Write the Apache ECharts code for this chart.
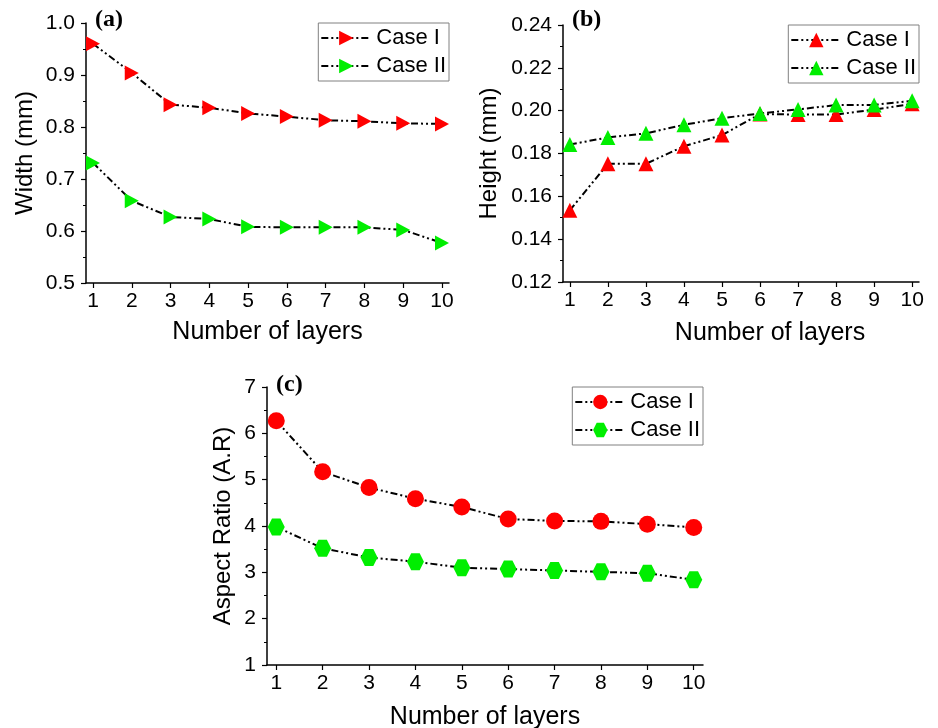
<!DOCTYPE html>
<html>
<head>
<meta charset="utf-8">
<script src="https://cdn.jsdelivr.net/npm/echarts@6/dist/echarts.min.js"></script>
<style>
html,body{margin:0;padding:0;background:#fff;}
#main{width:938px;height:728px;}
</style>
</head>
<body>
<div id="main"></div>
<script>
var layers = [1, 2, 3, 4, 5, 6, 7, 8, 9, 10];
var widthCaseI  = [0.960, 0.904, 0.843, 0.837, 0.826, 0.820, 0.813, 0.811, 0.807, 0.806];
var widthCaseII = [0.731, 0.658, 0.627, 0.623, 0.608, 0.607, 0.607, 0.607, 0.602, 0.577];
var heightCaseI  = [0.1535, 0.1752, 0.1752, 0.1834, 0.1886, 0.1984, 0.1982, 0.1982, 0.2005, 0.2032];
var heightCaseII = [0.1842, 0.1875, 0.1894, 0.1934, 0.1965, 0.1987, 0.2006, 0.2026, 0.2027, 0.2046];
var arCaseI  = [6.27, 5.17, 4.83, 4.59, 4.41, 4.15, 4.11, 4.10, 4.04, 3.97];
var arCaseII = [3.98, 3.52, 3.32, 3.23, 3.10, 3.07, 3.04, 3.01, 2.98, 2.84];
var seriesNames = ['Case I', 'Case II'];
var panelLabels = ['(a)', '(b)', '(c)'];
var xAxisTitle = 'Number of layers';
var yAxisTitles = ['Width (mm)', 'Height (mm)', 'Aspect Ratio (A.R)'];

function pairs(xs, ys) { return xs.map(function (x, i) { return [x, ys[i]]; }); }

var FONT = 'Liberation Sans, Arial, sans-serif';
var SERIF = 'Liberation Serif, Times New Roman, serif';
var RED = '#ff0000', GREEN = '#00ee00';
var DASH = [7, 3, 2, 3, 2, 3];
var triRight = 'path://M0,0L10,5L0,10Z';
var hexagon = 'path://M0,5L2.5,0.67L7.5,0.67L10,5L7.5,9.33L2.5,9.33Z';

function xAx(gi, gap, pad) {
  return {
    type: 'value', gridIndex: gi, min: gi === 2 ? 0.8 : 0.82, max: gi === 2 ? 10.2 : 10.18,
    name: xAxisTitle, nameLocation: 'middle', nameGap: gap,
    nameTextStyle: { fontFamily: FONT, fontSize: 25, color: '#000', padding: pad || 0 },
    axisLine: { show: true, onZero: false, lineStyle: { color: '#000', width: 1.5 } },
    axisTick: { show: true, inside: false, length: 5, customValues: layers, lineStyle: { color: '#000', width: 1.2 } },
    axisLabel: { customValues: layers, margin: 8, fontFamily: FONT, fontSize: 21, color: '#000' },
    splitLine: { show: false }
  };
}
function yAx(gi, min, max, interval, dec, gap) {
  return {
    type: 'value', gridIndex: gi, min: min, max: max, interval: interval,
    name: yAxisTitles[gi], nameLocation: 'middle', nameGap: gap,
    nameTextStyle: { fontFamily: FONT, fontSize: 24, color: '#000' },
    axisLine: { show: true, onZero: false, lineStyle: { color: '#000', width: 1.5 } },
    axisTick: { show: true, inside: false, length: 5, lineStyle: { color: '#000', width: 1.2 } },
    minorTick: { show: true, splitNumber: 2, length: 3, lineStyle: { color: '#000', width: 1 } },
    axisLabel: { margin: 11, fontFamily: FONT, fontSize: 21, color: '#000',
      formatter: function (v) { return v.toFixed(dec); } },
    splitLine: { show: false }, minorSplitLine: { show: false }
  };
}
function ser(name, gi, data, symbol, size, color) {
  return {
    type: 'line', name: name, xAxisIndex: gi, yAxisIndex: gi, data: data,
    symbol: symbol, symbolSize: size, showSymbol: true,
    itemStyle: { color: color, borderWidth: 0 },
    lineStyle: { color: '#000', width: 2, type: DASH },
    emphasis: { disabled: true }, z: 3
  };
}
function leg(gi, right, top) {
  var tag = ' ' + panelLabels[gi];
  return {
    data: [seriesNames[0] + tag, seriesNames[1] + tag],
    orient: 'vertical', right: right, top: top,
    formatter: function (n) { return n.replace(/ \(.\)$/, ''); },
    itemWidth: 50, itemHeight: 18, itemGap: 4,
    padding: [3, 3, 3, 2], borderColor: '#808080', borderWidth: 1,
    textStyle: { fontFamily: FONT, fontSize: 22, color: '#000', lineHeight: 24 },
    selectedMode: false
  };
}
function ttl(i, left, top) {
  return { text: panelLabels[i], left: left, top: top, padding: 0,
    textStyle: { fontFamily: SERIF, fontWeight: 'bold', fontSize: 24, color: '#000' } };
}

var chart = echarts.init(document.getElementById('main'));
chart.setOption({
  backgroundColor: '#fff',
  animation: false,
  title: [ttl(0, 95, 8), ttl(1, 572, 8), ttl(2, 276, 373)],
  grid: [
    { left: 86, top: 23, width: 363, height: 260, outerBoundsMode: 'none' },
    { left: 563, top: 25, width: 356, height: 257, outerBoundsMode: 'none' },
    { left: 267, top: 387, width: 436, height: 278, outerBoundsMode: 'none' }
  ],
  xAxis: [xAx(0, 37), xAx(1, 39, [0, 0, 0, 58]), xAx(2, 40)],
  yAxis: [
    yAx(0, 0.5, 1.0, 0.1, 1, 49),
    yAx(1, 0.12, 0.24, 0.02, 2, 62),
    yAx(2, 1, 7, 1, 0, 32)
  ],
  legend: [leg(0, 489, 23), leg(1, 19, 25), leg(2, 235, 387)],
  series: [
    ser(seriesNames[0] + ' (a)', 0, pairs(layers, widthCaseI), triRight, [14, 15], RED),
    ser(seriesNames[1] + ' (a)', 0, pairs(layers, widthCaseII), triRight, [14, 15], GREEN),
    ser(seriesNames[0] + ' (b)', 1, pairs(layers, heightCaseI), 'triangle', 15, RED),
    ser(seriesNames[1] + ' (b)', 1, pairs(layers, heightCaseII), 'triangle', 15, GREEN),
    ser(seriesNames[0] + ' (c)', 2, pairs(layers, arCaseI), 'circle', 17, RED),
    ser(seriesNames[1] + ' (c)', 2, pairs(layers, arCaseII), hexagon, 17, GREEN)
  ]
});
</script>
</body>
</html>
